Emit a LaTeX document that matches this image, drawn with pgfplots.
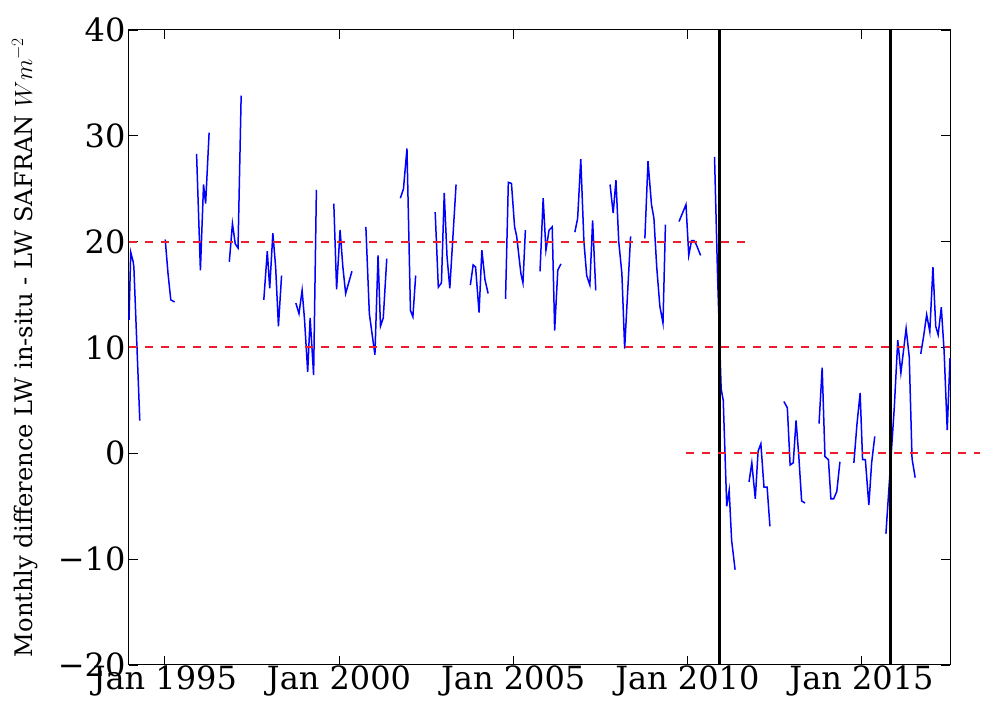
\documentclass[border=0pt]{standalone}
\usepackage{fontspec}
\setmainfont{DejaVu Serif}
\usepackage{pgfplots}
\pgfplotsset{compat=1.18}
\definecolor{dashred}{RGB}{235,30,45}
\begin{document}
\begin{tikzpicture}
\begin{axis}[name=ax,
 width=821pt, height=635pt, scale only axis,
 xmin=1993.97, xmax=2017.54, ymin=-20, ymax=40,
 xtick={1995,2000,2005,2010,2015},
 xticklabels={Jan 1995,Jan 2000,Jan 2005,Jan 2010,Jan 2015},
 ytick={-20,-10,0,10,20,30,40},
 yticklabels={−20,−10,0,10,20,30,40},
 tick align=inside, major tick length=9pt,
 every tick/.style={black, line width=0.8pt},
 minor tick num=0,
 tick label style={font=\fontsize{32}{38}\selectfont},
 axis line style={black, line width=1pt},
 xticklabel style={yshift=3pt},
 ylabel={Monthly difference LW in-situ - LW SAFRAN $Wm^{-2}$},
 every axis y label/.style={at={(axis description cs:-0.1181,0.5)}, rotate=90, anchor=base, font=\fontsize{24.2}{29}\selectfont},
 clip=false,
 unbounded coords=jump,
]
\addplot[blue, line width=1.5pt] coordinates {
(1993.97,12.6) (1994.02,19.0) (1994.09,18.1) (1994.11,17.6) (1994.28,3.1)
(1994.6,nan)
(1995.01,20.2) (1995.09,17.0) (1995.17,14.5) (1995.28,14.3)
(1995.6,nan)
(1995.91,28.3) (1996.02,17.3) (1996.11,25.4) (1996.17,23.6) (1996.27,30.3)
(1996.6,nan)
(1996.85,18.1) (1996.94,21.7) (1997.02,19.8) (1997.10,19.4) (1997.19,33.8)
(1997.6,nan)
(1997.84,14.5) (1997.94,19.1) (1998.01,15.6) (1998.10,20.8) (1998.18,17.6) (1998.26,12.0) (1998.35,16.8)
(1998.6,nan)
(1998.76,14.2) (1998.85,13.2) (1998.94,15.4) (1999.01,12.6) (1999.10,7.7) (1999.17,12.8) (1999.27,7.4) (1999.35,24.9)
(1999.6,nan)
(1999.85,23.6) (1999.93,15.5) (2000.03,21.1) (2000.11,17.6) (2000.19,15.1) (2000.37,17.2)
(2000.6,nan)
(2000.77,21.4) (2000.87,13.2) (2001.03,9.3) (2001.12,18.7) (2001.19,12.0) (2001.27,12.8) (2001.37,18.4)
(2001.6,nan)
(2001.76,24.1) (2001.85,25.0) (2001.95,28.8) (2002.05,13.5) (2002.12,12.9) (2002.20,16.8)
(2002.6,nan)
(2002.76,22.8) (2002.85,15.7) (2002.94,16.1) (2003.02,24.6) (2003.10,18.6) (2003.18,15.6) (2003.36,25.4)
(2003.6,nan)
(2003.77,15.9) (2003.85,17.8) (2003.92,17.6) (2004.02,13.3) (2004.10,19.2) (2004.19,16.4) (2004.28,15.1)
(2004.6,nan)
(2004.78,14.6) (2004.86,25.6) (2004.95,25.5) (2005.04,21.4) (2005.10,20.5) (2005.22,17.0) (2005.28,16.1) (2005.35,21.1)
(2005.6,nan)
(2005.77,17.2) (2005.86,24.1) (2005.94,19.2) (2006.03,21.1) (2006.12,21.4) (2006.19,11.6) (2006.28,17.3) (2006.37,17.9)
(2006.6,nan)
(2006.77,20.9) (2006.85,22.2) (2006.94,27.8) (2007.03,20.0) (2007.11,16.8) (2007.20,15.9) (2007.28,22.0) (2007.37,15.4)
(2007.6,nan)
(2007.78,25.4) (2007.87,22.7) (2007.95,25.8) (2008.03,20.0) (2008.12,17.0) (2008.20,9.9) (2008.37,20.5)
(2008.6,nan)
(2008.78,20.3) (2008.87,27.6) (2008.97,23.5) (2009.04,22.2) (2009.12,17.6) (2009.21,13.9) (2009.30,12.3) (2009.37,21.6)
(2009.6,nan)
(2009.76,21.9) (2009.86,22.7) (2009.96,23.5) (2010.04,18.7) (2010.12,20.1) (2010.19,20.1) (2010.26,19.7) (2010.38,18.7)
(2010.6,nan)
(2010.78,28.0) (2010.87,16.4) (2010.97,6.1) (2011.03,5.0) (2011.13,-5.0) (2011.20,-3.5) (2011.27,-8.2) (2011.37,-11.0)
(2011.6,nan)
(2011.77,-2.7) (2011.85,-0.9) (2011.95,-4.3) (2012.03,0.2) (2012.11,0.9) (2012.20,-3.2) (2012.29,-3.2) (2012.37,-6.9)
(2012.6,nan)
(2012.77,4.9) (2012.87,4.3) (2012.95,-1.1) (2013.04,-0.9) (2013.12,3.1) (2013.20,-0.3) (2013.28,-4.5) (2013.38,-4.7)
(2013.6,nan)
(2013.78,2.8) (2013.87,8.1) (2013.95,-0.3) (2014.05,-0.6) (2014.12,-4.3) (2014.20,-4.3) (2014.29,-3.6) (2014.38,-0.8)
(2014.6,nan)
(2014.78,-0.9) (2014.87,2.8) (2014.96,5.7) (2015.03,-0.6) (2015.11,-0.6) (2015.21,-4.9) (2015.29,-0.9) (2015.38,1.6)
(2015.6,nan)
(2015.70,-7.6) (2015.94,4.3) (2016.04,10.7) (2016.13,7.6) (2016.28,11.8) (2016.37,9.1) (2016.45,-0.5) (2016.54,-2.3)
(2016.62,nan)
(2016.70,9.4) (2016.78,11.0) (2016.87,13.1) (2016.96,11.5) (2017.05,17.6) (2017.13,12.0) (2017.20,11.2) (2017.29,13.8) (2017.37,9.7) (2017.46,2.2) (2017.54,9.0)
};
\addplot[black, line width=3pt] coordinates {(2010.93,-20) (2010.93,40)};
\addplot[black, line width=3pt] coordinates {(2015.84,-20) (2015.84,40)};
\addplot[dashred, line width=2pt, dash pattern=on 8pt off 8pt] coordinates {(1993.97,20) (2011.78,20)};
\addplot[dashred, line width=2pt, dash pattern=on 8pt off 8pt] coordinates {(1993.97,10) (2017.54,10)};
\addplot[dashred, line width=2pt, dash pattern=on 8pt off 8pt] coordinates {(2009.96,0) (2018.41,0)};
\end{axis}
\pgfresetboundingbox
\path[use as bounding box] ([xshift=-129pt,yshift=-36pt]ax.south west) rectangle ([xshift=37pt,yshift=30pt]ax.north east);
\end{tikzpicture}
\end{document}
